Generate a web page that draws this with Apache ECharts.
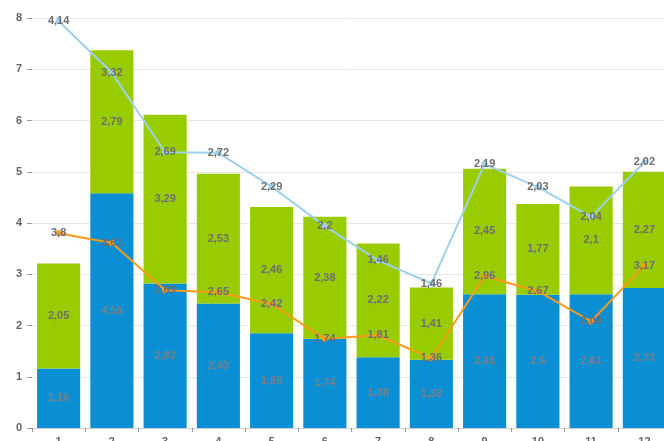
<!DOCTYPE html>
<html>
<head>
<meta charset="utf-8">
<script src="https://cdn.jsdelivr.net/npm/echarts@6/dist/echarts.min.js"></script>
<style>html,body{margin:0;padding:0;background:#fff}#c{width:664px;height:441px}</style>
</head>
<body>
<div id="c"></div>
<script>
const categories = ['1','2','3','4','5','6','7','8','9','10','11','12'];
const blueBars = [1.16, 4.58, 2.82, 2.43, 1.85, 1.74, 1.38, 1.33, 2.61, 2.6, 2.61, 2.73];
const greenBars = [2.05, 2.79, 3.29, 2.53, 2.46, 2.38, 2.22, 1.41, 2.45, 1.77, 2.1, 2.27];
const orangeLine = [3.8, 3.61, 2.69, 2.65, 2.42, 1.74, 1.81, 1.36, 2.96, 2.67, 2.08, 3.17];
const lightBlueLine = [4.14, 3.32, 2.69, 2.72, 2.29, 2.2, 1.46, 1.46, 2.19, 2.03, 2.04, 2.02];
const yTicks = [0, 1, 2, 3, 4, 5, 6, 7, 8];

const fmt = p => String(p.value).replace('.', ',');
const labelStyle = {show: true, formatter: fmt, color: '#6e6e6e', fontSize: 11, fontWeight: 'bold', fontFamily: 'Liberation Sans, Arial, sans-serif'};

const chart = echarts.init(document.getElementById('c'), null, {renderer: 'canvas'});
chart.setOption({
  animation: false,
  grid: {left: 32, top: 18, bottom: 13, width: 639, containLabel: false, outerBoundsMode: 'none'},
  xAxis: {
    type: 'category', data: categories,
    axisLine: {lineStyle: {color: '#cfcfcf'}},
    axisTick: {show: true, length: 4, lineStyle: {color: '#999'}},
    axisLabel: {color: '#666', fontSize: 11, fontWeight: 'bold', margin: 8, fontFamily: 'Liberation Sans, Arial, sans-serif'}
  },
  yAxis: {
    type: 'value', min: yTicks[0], max: yTicks[yTicks.length - 1], interval: 1,
    axisLine: {show: false},
    axisTick: {show: true, length: 5, lineStyle: {color: '#999'}},
    axisLabel: {color: '#666', fontSize: 11, fontWeight: 'bold', margin: 10, fontFamily: 'Liberation Sans, Arial, sans-serif'},
    splitLine: {lineStyle: {color: '#e8e8e8'}}
  },
  series: [
    {type: 'bar', stack: 'bars', data: blueBars, barCategoryGap: '19%',
     itemStyle: {color: '#0a8fd4'}, label: Object.assign({}, labelStyle, {position: 'inside', color: '#7a7f86'})},
    {type: 'bar', stack: 'bars', data: greenBars, barCategoryGap: '19%',
     itemStyle: {color: '#99cc00'}, label: Object.assign({}, labelStyle, {position: 'inside'})},
    {type: 'line', stack: 'lines', data: orangeLine, z: 5,
     symbol: 'circle', symbolSize: 6, itemStyle: {color: '#f59c1a'}, lineStyle: {color: '#f59c1a', width: 2},
     label: Object.assign({}, labelStyle, {position: 'inside'})},
    {type: 'line', stack: 'lines', data: lightBlueLine, z: 5,
     symbol: 'circle', symbolSize: 6, itemStyle: {color: '#9fd1ee'}, lineStyle: {color: '#9fd1ee', width: 2},
     label: Object.assign({}, labelStyle, {position: 'inside'})}
  ]
});
</script>
</body>
</html>
